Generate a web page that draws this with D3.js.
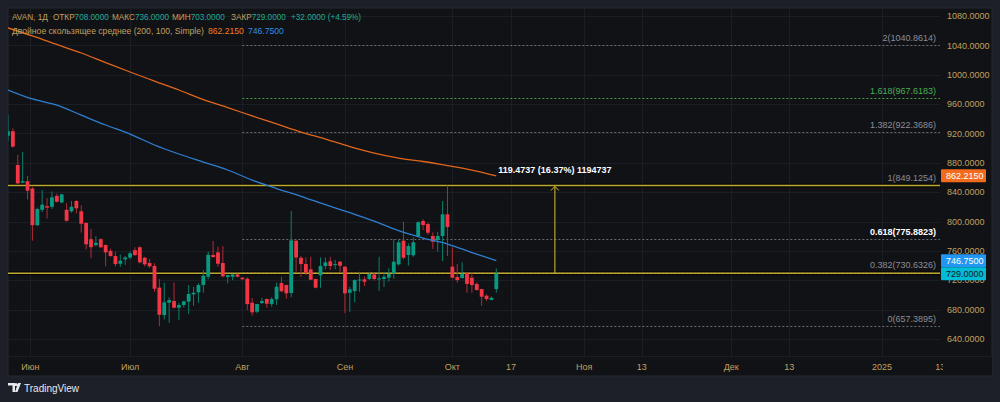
<!DOCTYPE html>
<html><head><meta charset="utf-8">
<script src="https://cdn.jsdelivr.net/npm/d3@7"></script>
<style>
html,body{margin:0;padding:0;background:#1e2029;}
svg{display:block;}
text{font-family:"Liberation Sans",Arial,sans-serif;}
</style></head><body>
<svg id="chart" width="1000" height="402"></svg>
<script>
// ---------- data ----------
const opens  = [917,923,877,853,855,845,795,816,821,820,835,826,816,814,828,814,798,776,768,776,
                768,760,753,742.5,748.5,751,761,765,750.7,743.5,739.4,710,672.6,689.5,691.7,682.6,686.3,690.9,700.8,703.6,
                713.5,724.8,754.4,758,743.5,724.4,724.8,728,723.5,722.1,689.4,677.2,689,694.5,687.6,694.1,716.3,713.5,702.6,773.9,
                750.7,742.1,734.9,721.7,726.7,739.4,745.8,741,745.3,738.5,703,705.3,720.3,721.3,721.7,728,721.7,721.7,723.5,729.4,
                741.7,773.9,754.4,754,780.3,800.7,796.6,780.3,774.8,780.3,809.8,738.5,724.4,723,729.5,723.5,715,708,699,693.1,708];
const highs  = [945,927,891,895,862,847,819,843,832,841,838,838,825,828,829,822,799,790,780,777,
                769,763,759,755,753,759,765,766,752,749,743,721.7,716.7,696.8,717.2,689,692,713.5,711,715.8,
                734,758.9,773.5,765.7,766.6,727.5,729,729,724,724,695.8,688,696.2,695,696.8,716.7,724.8,714,814.3,775,
                753,751,751.9,722,751,751,751.9,747.6,746,739,711.2,721,731.6,724.8,731.6,729.9,751.9,731.6,736.3,776.2,
                775,799.8,770.3,778.5,800.5,803,798.4,785.3,786.1,827.9,849.1254,764.8,742,744.5,731.2,731,717.2,708.5,701,697.8,736];
const lows   = [910,901,851,852,830,774,794,813,804,817,826,825,800,812,811,785,762,750,766,764,
                739,752,739,738.5,741,749,753,743,739,737,704.4,657.3895,666.8,662.1,682,665.8,683,674,685.3,689.4,
                703,721.3,751,738.5,724,715.8,720,724,721,679.6,671.7,675,687.6,682.6,684,686.3,703.6,694.9,696.8,731.6,
                724.8,727,720.3,709,709.9,735,734,735,730.3,675.4,677.2,690,704.4,712,720.3,719.4,705.3,711,718,722,
                740,748.5,740,752,778.9,788.4,782.2,762.6,759,746.2,753,722.6,716.7,722.6,703,703,706,685.3,692,693,703];
const closes = [923,902,852,855,842,795,817,823,819,833,827,837,801,820,818,797,769,765,771,765,
                758,753,742,746.6,751,756.7,754.4,744.4,741.7,739,708.5,673,690,693,682.6,686.3,691.3,701.3,703,713.5,
                726.2,754.8,751.6,742.5,725.4,727.1,728,724.8,721.3,687.6,676.3,687.6,691.7,688,694.5,711.2,705,702.2,774.4,751,
                742.1,730.3,720.8,709.9,739.4,744.4,739.4,742,739.8,702.2,707.6,720.3,721,718,728.5,721.7,722.5,724.8,728.5,745.3,
                771.7,750.7,766.6,771.7,799,795.3,784.8,772.5,780.3,809.8,792.5,723.5,720.3,728.5,715,713.5,706.7,697.6,694.5,696.2,729];

const maIdx  = [0,5,10,15,20,25,30,35,40,45,50,55,60,65,70,75,80,85,90,95,100];
const ma200  = [1063.7,1052.8,1041.2,1029.6,1016.6,1003.7,991.4,979.2,966.2,955.3,943.8,932.9,921.9,912.4,902.2,893.3,886.5,881.8,876.3,870.2,862.215];
const ma100  = [979.2,967,958.7,945,931.5,919.2,904.3,892,881.1,870.2,856.5,845,834.4,823,812,800.5,787.5,777.5,769.4,757.8,746.75];

const priceTicks = [640,680,720,760,800,840,880,920,960,1000,1040,1080];
const timeTickIdx = [4.6,25,48,69,91,103,118,129.8,148.1,160,179,190.9];
const timeTickLabels = ["Июн","Июл","Авг","Сен","Окт","17","Ноя","13","Дек","13","2025","13"];

const fibRatios = [0,0.382,0.618,1,1.382,1.618,2];
const fibValues = [657.3895,730.6326,775.8823,849.1254,922.3686,967.6183,1040.8614];
const fibStartIdx = 48;
const hLines = [849.1254, 729.6517];
const rangeFrom = 729.6517, rangeTo = 849.1254, rangeIdx = 112;
const rangeText = "119.4737 (16.37%) 1194737";

const legendLabels = ["AVAN, 1Д","ОТКР","МАКС","МИН","ЗАКР",""];
const legendValues = ["","708.0000","736.0000","703.0000","729.0000","+32.0000 (+4.59%)"];
const maLegendTitle = "Двойное скользящее среднее (200, 100, Simple)";
const maLegendValues = ["862.2150","746.7500"];

const lastLabels = [
  {v:862.2150, bg:"#f26b1d", fg:"#ffffff"},
  {v:746.7500, bg:"#2196f3", fg:"#ffffff"},
  {v:729.0000, bg:"#00bcd4", fg:"#131722"}
];

// ---------- layout ----------
const svg = d3.select("#chart");
const P = {l:8, t:8, r:940, b:356};
const axisRight = 992, frameBottom = 376;

const x = d3.scaleLinear().domain([0,100]).range([8,496.3]);
const y = d3.scaleLinear().domain([1080,640]).range([16,339]);

const gold = "#c0a05e";
const teal = "#22ab94";

svg.append("rect").attr("width",1000).attr("height",402).attr("fill","#1e2029");
svg.append("rect").attr("x",P.l).attr("y",P.t).attr("width",axisRight-P.l).attr("height",frameBottom-P.t)
   .attr("fill","#111216").attr("stroke","#262932").attr("stroke-width",1);

const defs = svg.append("defs");
defs.append("clipPath").attr("id","plot").append("rect")
   .attr("x",P.l).attr("y",P.t).attr("width",P.r-P.l).attr("height",P.b-P.t);

const plot = svg.append("g").attr("clip-path","url(#plot)");

// grid
plot.selectAll("line.hg").data(priceTicks).join("line")
   .attr("x1",P.l).attr("x2",P.r).attr("y1",d=>Math.round(y(d))+0.5).attr("y2",d=>Math.round(y(d))+0.5)
   .attr("stroke","#1c1e25").attr("stroke-width",1);
plot.selectAll("line.vg").data(timeTickIdx).join("line")
   .attr("y1",P.t).attr("y2",P.b).attr("x1",d=>Math.round(x(d))+0.5).attr("x2",d=>Math.round(x(d))+0.5)
   .attr("stroke","#1c1e25").attr("stroke-width",1);

// fib levels
const fibColor = r => r===1.618 ? "#43a047" : "#6a6d76";
const fib = fibRatios.map((r,k) => ({r, v: fibValues[k]}));
plot.selectAll("line.fib").data(fib).join("line")
   .attr("x1",x(fibStartIdx)).attr("x2",P.r)
   .attr("y1",d=>Math.round(y(d.v))+0.5).attr("y2",d=>Math.round(y(d.v))+0.5)
   .attr("stroke",d=>fibColor(d.r)).attr("stroke-width",1).attr("stroke-dasharray","2,2");

// horizontal yellow lines
plot.selectAll("line.hl").data(hLines).join("line")
   .attr("x1",P.l).attr("x2",P.r).attr("y1",d=>y(d)).attr("y2",d=>y(d))
   .attr("stroke","#000").attr("stroke-opacity",0.6).attr("stroke-width",4);
plot.selectAll("line.hl2").data(hLines).join("line")
   .attr("x1",P.l).attr("x2",P.r).attr("y1",d=>y(d)).attr("y2",d=>y(d))
   .attr("stroke","#bda82d").attr("stroke-width",1.6);

// candles
const bars = closes.map((c,i)=>({i,o:opens[i],h:highs[i],l:lows[i],c}));
const up = d => d.c >= d.o;
const bw = 3.8;
plot.selectAll("line.wick").data(bars).join("line")
   .attr("x1",d=>x(d.i)).attr("x2",d=>x(d.i)).attr("y1",d=>y(d.h)).attr("y2",d=>y(d.l))
   .attr("stroke",d=>up(d)?"#0b7f6d":"#b32a36").attr("stroke-width",1);
plot.selectAll("rect.body").data(bars).join("rect")
   .attr("x",d=>x(d.i)-bw/2).attr("width",bw)
   .attr("y",d=>y(Math.max(d.o,d.c))).attr("height",d=>Math.max(1,Math.abs(y(d.o)-y(d.c))))
   .attr("fill",d=>up(d)?"#089981":"#f23645");

// moving averages
const line = d3.line().x(d=>x(d[0])).y(d=>y(d[1])).curve(d3.curveMonotoneX);
plot.append("path").attr("d",line(maIdx.map((k,j)=>[k,ma200[j]])))
   .attr("fill","none").attr("stroke","#e0661c").attr("stroke-width",1.3);
plot.append("path").attr("d",line(maIdx.map((k,j)=>[k,ma100[j]])))
   .attr("fill","none").attr("stroke","#2f7fd0").attr("stroke-width",1.3);

// fib labels
svg.selectAll("text.fibl").data(fib).join("text")
   .attr("x",P.r-4).attr("y",d=>y(d.v)-4).attr("text-anchor","end")
   .attr("font-size",9).attr("font-weight",d=>d.r===0.618?"bold":"normal")
   .attr("fill",d=>d.r===1.618?"#4caf50":(d.r===0.618?"#ffffff":"#8a8d96"))
   .text(d=>`${d.r}(${d.v.toFixed(4)})`);

// price range tool
const rx = x(rangeIdx);
plot.append("line").attr("x1",rx).attr("x2",rx).attr("y1",y(rangeFrom)).attr("y2",y(rangeTo)+1)
   .attr("stroke","#d8c030").attr("stroke-width",1);
plot.append("path").attr("d",`M${rx-4},${y(rangeTo)+5}L${rx},${y(rangeTo)+1}L${rx+4},${y(rangeTo)+5}`)
   .attr("fill","none").attr("stroke","#d8c030").attr("stroke-width",1);
svg.append("text").attr("x",rx).attr("y",y(rangeTo)-12).attr("text-anchor","middle")
   .attr("font-size",9).attr("font-weight","bold").attr("fill","#ffffff").text(rangeText);

// price axis
svg.selectAll("text.pt").data(priceTicks).join("text")
   .attr("x",947).attr("y",d=>y(d)).attr("dy","0.35em")
   .attr("font-size",9).attr("fill",gold).text(d=>d3.format(".4f")(d));
const ll = svg.selectAll("g.ll").data(lastLabels).join("g")
   .attr("transform",d=>`translate(941,${y(d.v)})`);
ll.append("rect").attr("x",0).attr("y",-6.5).attr("width",45).attr("height",13).attr("rx",1).attr("fill",d=>d.bg);
ll.append("text").attr("x",5).attr("y",0).attr("dy","0.35em").attr("font-size",9)
   .attr("fill",d=>d.fg).text(d=>d3.format(".4f")(d.v));

// time axis
svg.append("line").attr("x1",P.l).attr("x2",axisRight).attr("y1",P.b+0.5).attr("y2",P.b+0.5).attr("stroke","#1c1f26");
svg.selectAll("text.tt").data(timeTickIdx).join("text")
   .attr("x",d=>x(d)).attr("y",367).attr("dy","0.35em").attr("text-anchor","middle")
   .attr("font-size",9).attr("fill",gold).text((d,i)=>timeTickLabels[i]);
svg.append("rect").attr("x",943).attr("y",357).attr("width",49).attr("height",18).attr("fill","#111216");

// legend line 1 (groups placed left to right)
const groupX = [12,53,112,172,231,291];
legendLabels.forEach((lab,k)=>{
  const t = svg.append("text").attr("x",groupX[k]).attr("y",17).attr("dy","0.35em").attr("font-size",8.2);
  if (lab) t.append("tspan").attr("fill",gold).text(lab);
  if (legendValues[k]) t.append("tspan").attr("fill",teal).text(legendValues[k]);
});
// legend line 2
const t2 = svg.append("text").attr("x",12).attr("y",31).attr("dy","0.35em").attr("font-size",8.6);
t2.append("tspan").attr("fill",gold).text(maLegendTitle);
t2.append("tspan").attr("x",208).attr("fill","#f57c1f").text(maLegendValues[0]);
t2.append("tspan").attr("x",248).attr("fill","#2f8fe6").text(maLegendValues[1]);

// TradingView logo
const logo = svg.append("g").attr("transform","translate(8,383)");
logo.append("path").attr("d","M0,0H7V9H4.5V2.5H0Z M8,0A1.5,1.5 0 1 1 8,3A1.5,1.5 0 1 1 8,0Z M10,0H13L9.5,9H7Z").attr("fill","#e8e9ee");
logo.append("text").attr("x",16).attr("y",5).attr("dy","0.35em").attr("font-size",10).attr("fill","#e8e9ee").text("TradingView");
</script></body></html>
